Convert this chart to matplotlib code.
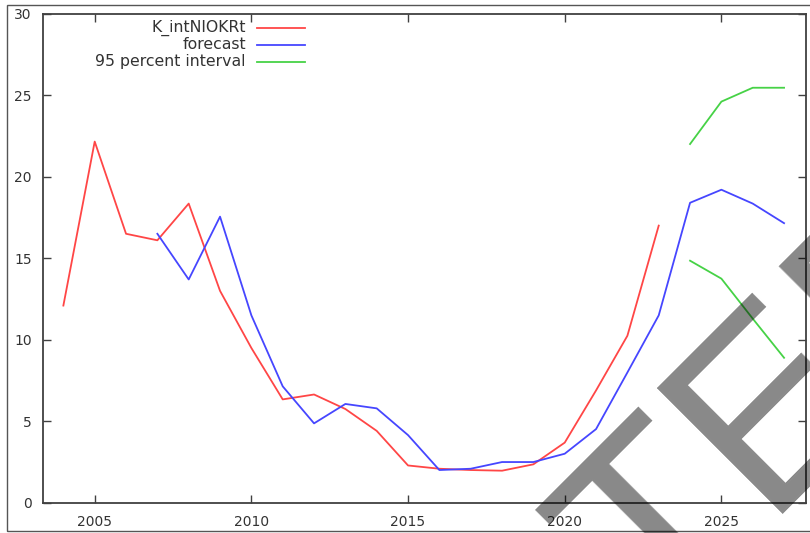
import numpy as np
import matplotlib
matplotlib.use('Agg')
import matplotlib.pyplot as plt
from matplotlib.patches import Rectangle
from matplotlib.lines import Line2D

# actual series
years_actual = list(range(2004, 2024))
actual = [12.1, 22.15, 16.5, 16.1, 18.35, 13.0, 9.5, 6.35, 6.65, 5.76, 4.42,
          2.3, 2.1, 2.02, 1.98, 2.37, 3.7, 6.9, 10.25, 17.0]

# one-step forecast + out of sample
years_fc = list(range(2007, 2028))
forecast = [16.5, 13.7, 17.55, 11.5, 7.15, 4.88, 6.07, 5.8, 4.16, 2.02, 2.1,
            2.51, 2.51, 3.02, 4.53, 8.0, 11.5, 18.4, 19.2, 18.35, 17.15]

# 95% interval
years_int = [2024, 2025, 2026, 2027]
upper = [22.0, 24.6, 25.45, 25.45]
lower = [14.85, 13.75, 11.3, 8.9]

labels = ["K_intNIOKRt", "forecast", "95 percent interval"]

RED = '#ff4646'
BLUE = '#4646ff'
GREEN = '#46d246'
AX = '#404040'
TXT = '#333333'

fig = plt.figure(figsize=(8.1, 5.33), dpi=100)
ax = fig.add_axes([43 / 810, 1 - 503 / 533, (806 - 43) / 810, (503 - 13.5) / 533])
ax.set_facecolor('none')

ax.plot(years_actual, actual, color=RED, lw=1.3)
ax.plot(years_fc, forecast, color=BLUE, lw=1.3)
ax.plot(years_int, upper, color=GREEN, lw=1.3)
ax.plot(years_int, lower, color=GREEN, lw=1.3)

ax.set_xlim(2003.35, 2027.7)
ax.set_ylim(0, 30)
ax.set_xticks(range(2005, 2026, 5))
ax.set_yticks(range(0, 31, 5))
ax.tick_params(direction='in', length=6, width=1, color=AX, top=True, right=True,
               labelsize=10, labelcolor=TXT)
ax.tick_params(axis='x', pad=9)
ax.tick_params(axis='y', pad=8)
for s in ax.spines.values():
    s.set_color(AX)
    s.set_linewidth(1.3)

# gnuplot-style key: text right-aligned, sample line to the right
key_y = [0.970, 0.936, 0.901]
for lab, col, y in zip(labels, [RED, BLUE, GREEN], key_y):
    ax.text(0.266, y, lab, transform=ax.transAxes, ha='right', va='center',
            fontsize=11.3, color=TXT)
    ax.add_line(Line2D([0.280, 0.343], [y, y], transform=ax.transAxes,
                       color=col, lw=1.3))

# screenshot frame
fig.patches.append(Rectangle((7 / 810, 1 - 531 / 533), 1.0, (531 - 5) / 533,
                             transform=fig.transFigure, fill=False,
                             edgecolor='#555555', lw=1.0))

# watermark (cut by the image edge, as in the source)
fig.text(655 / 810, 1 - 636 / 533, "TER", fontsize=186, family='Liberation Sans',
         color='black', alpha=0.465, rotation=45, rotation_mode='anchor',
         ha='left', va='baseline', zorder=10)

fig.savefig('out.png', dpi=100)
